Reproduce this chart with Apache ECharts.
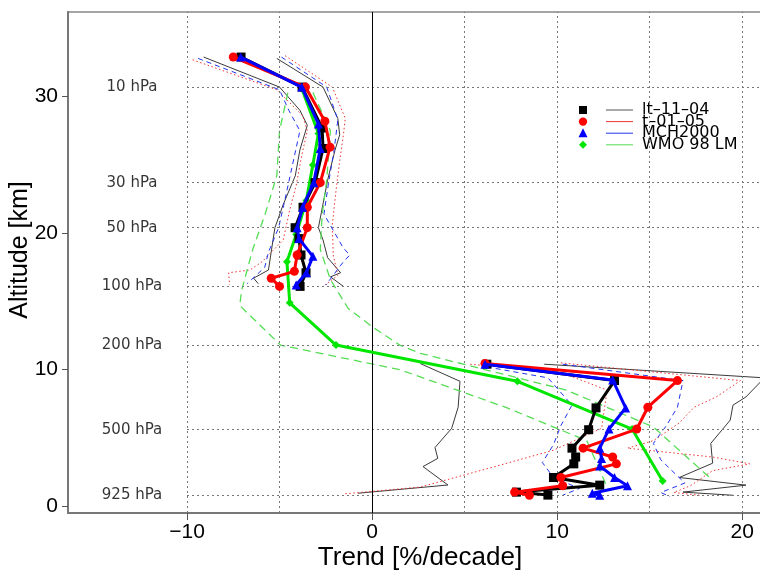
<!DOCTYPE html>
<html>
<head>
<meta charset="utf-8">
<script src="https://cdn.jsdelivr.net/npm/echarts@6/dist/echarts.min.js"></script>
<style>
html,body{margin:0;padding:0;background:#fff;overflow:hidden;}
#chart{width:760px;height:574px;}
</style>
</head>
<body>
<div id="chart"></div>
<script>
// ---------- axis ticks / grid ----------
const trendTicks = [-10, 0, 10, 20];
const altTicks = [0, 10, 20, 30];
const trendGrid = [-10, -5, 5, 10, 15, 20];
const pressureLabels = ['10 hPa', '30 hPa', '50 hPa', '100 hPa', '200 hPa', '500 hPa', '925 hPa'];
const pressureAlt = [30.7, 23.7, 20.4, 16.1, 11.8, 5.6, 0.8];
const pressureLabelTrend = -12.97;

// ---------- lt-11-04 (black) ----------
const ltUpAlt   = [32.9, 30.7, 27.7, 26.2, 23.7, 21.9, 20.4, 19.6, 18.4, 17.1, 16.1];
const ltUpTrend = [-7.08, -3.78, -2.70, -2.65, -3.08, -3.73, -4.16, -3.95, -3.84, -3.57, -3.89];
const ltLoAlt   = [10.4, 9.2, 7.2, 5.6, 4.25, 3.6, 3.1, 2.1, 1.54, 1.03, 0.81];
const ltLoTrend = [6.2, 13.1, 12.1, 11.7, 10.8, 11.0, 10.9, 9.8, 12.3, 7.8, 9.5];
// bounds
const ltMinUpAlt   = [32.9, 30.7, 29.0, 27.9, 26.1, 24.2, 22.1, 20.4, 17.3, 16.7, 16.3];
const ltMinUpTrend = [-9.1, -5.0, -3.9, -3.5, -3.9, -4.15, -4.8, -5.25, -5.6, -6.4, -6.15];
const ltMaxUpAlt   = [32.8, 30.7, 28.4, 27.2, 26.1, 23.9, 20.4, 19.5, 18.2, 17.1, 16.8, 16.1];
const ltMaxUpTrend = [-5.15, -2.65, -1.85, -1.75, -2.0, -2.4, -2.9, -2.65, -2.4, -1.7, -2.25, -1.55];
const ltMinLoAlt   = [10.45, 9.15, 7.25, 5.7, 4.3, 3.5, 2.9, 1.55, 0.95];
const ltMinLoTrend = [2.6, 4.75, 4.65, 4.3, 3.4, 3.55, 2.75, 4.1, -0.75];
const ltMaxLoAlt   = [10.4, 9.4, 8.0, 7.4, 6.3, 4.6, 3.15, 2.1, 1.54, 1.03, 0.8];
const ltMaxLoTrend = [9.3, 21.2, 20.2, 19.5, 19.35, 18.3, 18.4, 16.6, 20.2, 16.8, 19.5];

// ---------- t-01-05 (red) ----------
const tUpAlt   = [32.9, 30.7, 28.2, 26.3, 23.7, 21.9, 20.4, 18.4, 17.2, 16.7, 16.1];
const tUpTrend = [-7.5, -3.6, -2.55, -2.27, -2.8, -3.5, -3.5, -4.05, -4.2, -5.45, -5.0];
const tLoAlt   = [10.45, 9.2, 7.25, 5.65, 4.25, 3.6, 3.1, 2.1, 1.5, 1.03, 0.8];
const tLoTrend = [6.1, 16.5, 14.9, 14.3, 11.4, 13.0, 13.2, 10.2, 10.3, 7.7, 8.5];
const tMinUpAlt   = [32.7, 30.5, 28.6, 27.5, 25.7, 23.5, 21.7, 19.5, 17.9, 17.3, 17.1, 16.2];
const tMinUpTrend = [-9.7, -5.15, -3.75, -3.5, -3.8, -4.1, -4.45, -4.8, -5.95, -6.6, -7.75, -7.7];
const tMaxUpAlt   = [33.0, 30.7, 28.4, 27.2, 25.3, 23.1, 20.6, 18.4, 16.9, 16.2];
const tMaxUpTrend = [-4.7, -2.15, -1.45, -1.55, -1.75, -1.95, -2.15, -2.1, -1.85, -2.55];
const tMinLoAlt   = [10.4, 9.75, 8.5, 5.7, 4.1, 2.85, 1.4, 0.9];
const tMinLoTrend = [5.3, 10.3, 12.7, 12.4, 9.8, 6.5, 2.6, -1.5];
const tMaxLoAlt   = [10.5, 9.2, 8.0, 7.25, 6.1, 4.8, 4.25, 3.6, 3.1, 2.6, 1.5, 1.0, 0.8];
const tMaxLoTrend = [10.2, 19.9, 18.6, 17.4, 16.6, 15.2, 13.8, 18.4, 20.4, 18.4, 17.2, 16.3, 17.7];

// ---------- MCH2000 (blue) ----------
const mUpAlt   = [32.9, 30.7, 28.0, 26.2, 23.7, 21.9, 20.4, 19.6, 18.3, 17.1, 16.2];
const mUpTrend = [-7.1, -3.8, -2.9, -2.8, -3.15, -3.75, -4.05, -3.95, -3.2, -3.55, -4.1];
const mLoAlt   = [10.4, 9.25, 7.2, 5.65, 4.25, 3.5, 2.95, 2.1, 1.5, 0.95, 0.8];
const mLoTrend = [6.1, 13.0, 13.7, 12.8, 12.3, 12.4, 12.3, 13.1, 13.8, 11.9, 12.3];
const mMinUpAlt   = [32.8, 30.5, 29.0, 27.5, 25.0, 22.5, 20.4, 18.6, 17.5, 16.3];
const mMinUpTrend = [-9.4, -5.0, -4.5, -3.9, -4.3, -4.7, -5.05, -5.6, -5.8, -6.75];
const mMaxUpAlt   = [32.9, 30.7, 28.3, 26.1, 23.7, 21.4, 18.9, 18.4, 17.9, 16.2];
const mMaxUpTrend = [-4.9, -2.45, -1.85, -2.05, -2.35, -2.6, -1.55, -1.2, -1.55, -2.5];
const mMinLoAlt   = [10.2, 9.4, 7.4, 5.9, 4.5, 3.2, 2.1, 1.3, 0.8];
const mMinLoTrend = [6.2, 9.5, 10.8, 10.2, 9.8, 9.2, 9.8, 11.2, 10.3];
const mMaxLoAlt   = [10.4, 9.2, 7.25, 5.9, 4.6, 3.4, 2.6, 1.7, 1.0, 0.7];
const mMaxLoTrend = [10.3, 16.8, 16.5, 15.9, 15.2, 15.6, 16.2, 16.9, 15.6, 16.1];

// ---------- WMO 98 LM (green) ----------
const wAlt   = [30.6, 27.3, 25.0, 22.4, 19.9, 17.9, 14.9, 11.8, 9.15, 5.65, 1.85];
const wTrend = [-3.8, -2.9, -3.2, -3.55, -4.1, -4.6, -4.45, -1.95, 7.85, 14.05, 15.7];
const wMinAlt   = [30.3, 27.5, 24.2, 21.3, 18.8, 15.8, 14.7, 11.8, 10.0, 7.2, 4.8, 1.4];
const wMinTrend = [-4.55, -5.0, -5.15, -5.8, -6.45, -7.05, -7.15, -4.95, 1.5, 7.3, 11.6, 12.7];
const wMaxAlt   = [30.3, 27.5, 23.9, 21.3, 18.8, 16.6, 14.5, 13.1, 11.8, 11.2, 8.5, 5.8, 1.9];
const wMaxTrend = [-3.2, -2.25, -2.45, -2.7, -2.8, -2.25, -1.3, 0.05, 1.5, 2.6, 10.5, 15.2, 18.4];

const X_MIN = -16.43, X_MAX = 21.5, Y_MIN = -0.5, Y_MAX = 36.2;

function pts(tr, al) { return tr.map((t, i) => [t, al[i]]); }

function bound(tr, al, color, type, width) {
  return {
    type: 'line', data: pts(tr, al), symbol: 'none', z: 2, silent: true,
    lineStyle: { color: color, width: width || 1, type: type },
    animation: false
  };
}
function main(tr, al, color, symbol, size, z) {
  return {
    type: 'line', data: pts(tr, al), symbol: symbol, symbolSize: size, z: z,
    showSymbol: true,
    lineStyle: { color: color, width: 3 },
    itemStyle: { color: color, borderWidth: 0 },
    animation: false
  };
}

const blackThin = '#3a3a3a', redC = '#ff0000', blueC = '#0000ff', greenC = '#00e600';
const greenDash = '#55dd55';

const series = [];
// grid lines and pressure labels
series.push({
  type: 'scatter', data: pressureAlt.map((a, i) => [pressureLabelTrend, a, pressureLabels[i]]),
  symbolSize: 1, itemStyle: { color: 'transparent' }, silent: true, z: 1,
  label: { show: true, position: 'inside', formatter: p => p.data[2],
    fontFamily: 'DejaVu Sans', fontSize: 15, color: '#000' },
  markLine: {
    silent: true, symbol: 'none', animation: false,
    label: { show: false },
    lineStyle: { color: '#777', type: [2, 3], width: 1 },
    data: trendGrid.map(v => ({ xAxis: v }))
      .concat(pressureAlt.map(a => [{ coord: [-10, a] }, { coord: [X_MAX, a] }]))
  },
  animation: false
});
// zero line
series.push({
  type: 'line', data: [], symbol: 'none',
  markLine: { silent: true, symbol: 'none', animation: false, label: { show: false },
    lineStyle: { color: '#000', type: 'solid', width: 1 }, data: [{ xAxis: 0 }] }
});

// bounds
series.push(bound(ltMinUpTrend, ltMinUpAlt, blackThin, 'solid'));
series.push(bound(ltMaxUpTrend, ltMaxUpAlt, blackThin, 'solid'));
series.push(bound(ltMinLoTrend, ltMinLoAlt, blackThin, 'solid'));
series.push(bound(ltMaxLoTrend, ltMaxLoAlt, blackThin, 'solid'));
series.push(bound(tMinUpTrend, tMinUpAlt, '#ee3333', [1.5, 2.5]));
series.push(bound(tMaxUpTrend, tMaxUpAlt, '#ee3333', [1.5, 2.5]));
series.push(bound(tMinLoTrend, tMinLoAlt, '#ee3333', [1.5, 2.5]));
series.push(bound(tMaxLoTrend, tMaxLoAlt, '#ee3333', [1.5, 2.5]));
series.push(bound(mMinUpTrend, mMinUpAlt, '#2233ee', [5, 4]));
series.push(bound(mMaxUpTrend, mMaxUpAlt, '#2233ee', [5, 4]));
series.push(bound(mMinLoTrend, mMinLoAlt, '#2233ee', [5, 4]));
series.push(bound(mMaxLoTrend, mMaxLoAlt, '#2233ee', [5, 4]));
series.push(bound(wMinTrend, wMinAlt, greenDash, [8, 5], 1.3));
series.push(bound(wMaxTrend, wMaxAlt, greenDash, [8, 5], 1.3));

// main profiles
series.push(main(wTrend, wAlt, greenC, 'diamond', 8, 5));
series.push(main(ltUpTrend, ltUpAlt, '#000', 'rect', 9, 6));
series.push(main(ltLoTrend, ltLoAlt, '#000', 'rect', 9, 6));
series.push(main(tUpTrend, tUpAlt, redC, 'circle', 9, 7));
series.push(main(tLoTrend, tLoAlt, redC, 'circle', 9, 7));
series.push(main(mUpTrend, mUpAlt, blueC, 'triangle', 9, 8));
series.push(main(mLoTrend, mLoAlt, blueC, 'triangle', 9, 8));

// legend (graphic)
const legNames = ['lt\u201311\u201304', 't\u201301\u201305', 'MCH2000', 'WMO 98 LM'];
const legColors = ['#000', redC, blueC, greenC];
const legLine = ['#555', '#ee3333', '#2233ee', '#55dd55'];
const legY0 = 110, legDY = 11.6;
const graphic = [];
legNames.forEach((n, i) => {
  const y = legY0 + i * legDY;
  let shape;
  if (i === 0) shape = { type: 'rect', shape: { x: 579, y: y - 4, width: 8, height: 8 }, style: { fill: legColors[i] } };
  else if (i === 1) shape = { type: 'circle', shape: { cx: 583, cy: y, r: 4.2 }, style: { fill: legColors[i] } };
  else if (i === 2) shape = { type: 'polygon', shape: { points: [[583, y - 5], [578.5, y + 4], [587.5, y + 4]] }, style: { fill: legColors[i] } };
  else shape = { type: 'polygon', shape: { points: [[583, y - 4], [587, y], [583, y + 4], [579, y]] }, style: { fill: legColors[i] } };
  graphic.push(shape);
  graphic.push({ type: 'line', shape: { x1: 606, y1: y, x2: 633, y2: y }, style: { stroke: legLine[i], lineWidth: 1 } });
  graphic.push({ type: 'text', x: 642, y: y, style: { text: n, font: '16px "DejaVu Sans"', fill: '#000', textAlign: 'left', textVerticalAlign: 'middle' } });
});
graphic.push({ type: 'text', x: 420, y: 558, style: { text: 'Trend [%/decade]', font: '26px "Liberation Sans"', fill: '#000', textAlign: 'center', textVerticalAlign: 'middle' } });
graphic.push({ type: 'text', x: 20, y: 250, rotation: Math.PI / 2, style: { text: 'Altitude [km]', font: '25px "Liberation Sans"', fill: '#000', textAlign: 'center', textVerticalAlign: 'middle' } });

const chart = echarts.init(document.getElementById('chart'), null, { renderer: 'canvas' });
chart.setOption({
  animation: false,
  backgroundColor: '#fff',
  grid: { left: 68, top: 12, width: 702, height: 501, show: true, borderColor: '#888', borderWidth: 1.5,
    containLabel: false, outerBoundsMode: 'none' },
  xAxis: {
    type: 'value', min: X_MIN, max: X_MAX,
    axisLine: { show: true, onZero: false, lineStyle: { color: '#777', width: 2 } },
    axisTick: { show: true, customValues: trendTicks, length: 7, lineStyle: { color: '#555', width: 1 } },
    axisLabel: { show: true, customValues: trendTicks, margin: 9, fontFamily: 'Liberation Sans', fontSize: 21, color: '#000',
      formatter: v => String(v).replace('-', '\u2212') },
    splitLine: { show: false }
  },
  yAxis: {
    type: 'value', min: Y_MIN, max: Y_MAX,
    axisLine: { show: true, onZero: false, lineStyle: { color: '#777', width: 2 } },
    axisTick: { show: true, customValues: altTicks, length: 6, lineStyle: { color: '#555', width: 1 } },
    axisLabel: { show: true, customValues: altTicks, margin: 10, fontFamily: 'Liberation Sans', fontSize: 21, color: '#000' },
    splitLine: { show: false }
  },
  graphic: graphic,
  series: series
});
</script>
</body>
</html>
